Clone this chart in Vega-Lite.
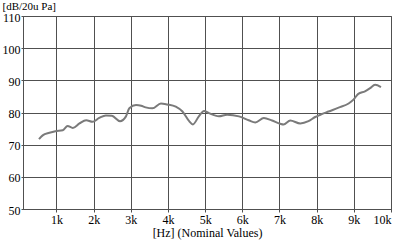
{
  "$schema": "https://vega.github.io/schema/vega-lite/v6.json",
  "autosize": "none",
  "width": 368,
  "height": 193,
  "padding": {"left": 23, "top": 16, "right": 9, "bottom": 31},
  "background": "white",
  "config": {
    "view": {"stroke": "#505050", "strokeWidth": 1},
    "font": "serif",
    "axis": {
      "labelFont": "serif",
      "titleFont": "serif",
      "labelFontSize": 12,
      "titleFontSize": 12,
      "titleFontWeight": "normal",
      "labelColor": "black",
      "titleColor": "black",
      "gridColor": "#505050",
      "gridOpacity": 1,
      "gridWidth": 1,
      "domainColor": "#505050",
      "tickColor": "#505050",
      "tickSize": 3
    }
  },
  "data": {
    "values": [
      {"hz": 530, "db": 71.7},
      {"hz": 630, "db": 72.9},
      {"hz": 810, "db": 73.7},
      {"hz": 970, "db": 74.2},
      {"hz": 1170, "db": 74.5},
      {"hz": 1300, "db": 75.8},
      {"hz": 1440, "db": 75.2},
      {"hz": 1620, "db": 76.6},
      {"hz": 1800, "db": 77.6},
      {"hz": 1970, "db": 77.1},
      {"hz": 2150, "db": 78.3},
      {"hz": 2330, "db": 79.1},
      {"hz": 2490, "db": 79.0},
      {"hz": 2710, "db": 77.3},
      {"hz": 2870, "db": 78.8},
      {"hz": 2960, "db": 81.3},
      {"hz": 3140, "db": 82.3},
      {"hz": 3280, "db": 82.1},
      {"hz": 3400, "db": 81.6},
      {"hz": 3580, "db": 81.3},
      {"hz": 3810, "db": 82.8},
      {"hz": 3980, "db": 82.5},
      {"hz": 4210, "db": 81.8},
      {"hz": 4390, "db": 80.3},
      {"hz": 4570, "db": 77.3},
      {"hz": 4670, "db": 76.3},
      {"hz": 4830, "db": 78.8},
      {"hz": 4970, "db": 80.5},
      {"hz": 5100, "db": 79.8},
      {"hz": 5370, "db": 78.8},
      {"hz": 5590, "db": 79.3},
      {"hz": 5910, "db": 78.8},
      {"hz": 6170, "db": 77.6},
      {"hz": 6350, "db": 76.9},
      {"hz": 6580, "db": 78.3},
      {"hz": 6800, "db": 77.5},
      {"hz": 7020, "db": 76.5},
      {"hz": 7110, "db": 76.3},
      {"hz": 7290, "db": 77.5},
      {"hz": 7560, "db": 76.6},
      {"hz": 7780, "db": 77.3},
      {"hz": 7960, "db": 78.6},
      {"hz": 8100, "db": 79.3},
      {"hz": 8320, "db": 80.3},
      {"hz": 8590, "db": 81.5},
      {"hz": 8860, "db": 82.8},
      {"hz": 8990, "db": 84.0},
      {"hz": 9120, "db": 85.8},
      {"hz": 9300, "db": 86.6},
      {"hz": 9440, "db": 87.6},
      {"hz": 9570, "db": 88.6},
      {"hz": 9730, "db": 87.9}
    ]
  },
  "mark": {"type": "line", "color": "#7a7a7a", "strokeWidth": 2, "interpolate": "monotone"},
  "encoding": {
    "x": {
      "field": "hz",
      "type": "quantitative",
      "scale": {"domain": [100, 10000], "nice": false, "zero": false},
      "axis": {
        "values": [1000, 2000, 3000, 4000, 5000, 6000, 7000, 8000, 9000, 10000],
        "labelExpr": "datum.value / 1000 + 'k'",
        "labelPadding": 2,
        "title": "[Hz] (Nominal Values)",
        "titlePadding": 2
      }
    },
    "y": {
      "field": "db",
      "type": "quantitative",
      "scale": {"domain": [50, 110], "nice": false, "zero": false},
      "axis": {
        "values": [50, 60, 70, 80, 90, 100, 110],
        "labelPadding": 1,
        "labelOffset": 1,
        "tickSize": 2,
        "title": "[dB/20u Pa]",
        "titleAngle": 0,
        "titleAlign": "left",
        "titleBaseline": "top",
        "titleFontSize": 11,
        "titleX": -21,
        "titleY": -16
      }
    }
  }
}
